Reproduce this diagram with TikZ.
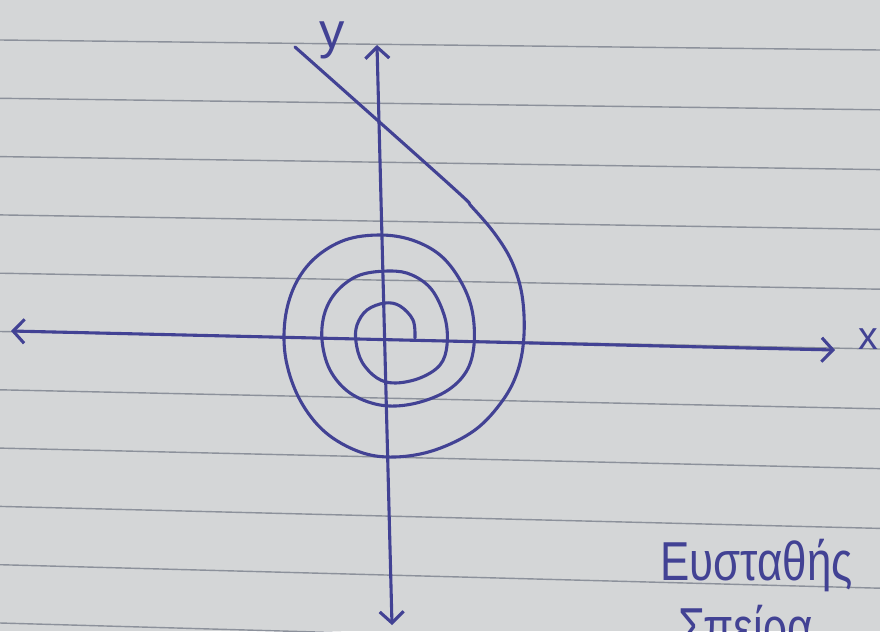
\documentclass[tikz,border=0pt]{standalone}
\usepackage{fontspec}
\setmainfont{Liberation Sans}
\usetikzlibrary{arrows.meta}
\definecolor{paper}{RGB}{212,214,215}
\definecolor{rule}{RGB}{140,145,155}
\definecolor{pen}{RGB}{66,66,148}
\tikzset{
  paperline/.style={draw=rule, line width=1pt},
  penline/.style={draw=pen, line width=2.2pt, line cap=round, line join=round},
  axisarrow/.style={penline, {Straight Barb[length=8pt,width=17pt]}-{Straight Barb[length=8pt,width=17pt]}},
  hand/.style={text=pen, inner sep=0pt}
}
\begin{document}
\begin{tikzpicture}[x=0.025cm, y=-0.025cm]
\useasboundingbox (0,0) rectangle (880,631);
\clip (0,0) rectangle (880,631);
\fill[paper] (0,0) rectangle (880,631);
% ruled paper lines
\foreach \k in {0,...,10}{
  \draw[paperline] (0,{40+58.3*\k}) -- (880,{50+59.8*\k});
}
% axes
\coordinate (xl) at (11,331);
\coordinate (xr) at (835,350);
\coordinate (yt) at (377,45);
\coordinate (yb) at (392,625);
\draw[axisarrow] (xl) -- (xr);
\draw[axisarrow] (yb) -- (yt);
\node[hand, anchor=base, font=\fontsize{28}{30}\selectfont] (xlab) at (868,349) {x};
\node[hand, anchor=base, font=\fontsize{36}{40}\selectfont] (ylab) at (332,48) {y};
% spiral
\draw[penline] plot[smooth, tension=0.6] coordinates {
 (415,338) (413,320) (400,306) (385,303) (367,310) (357,325) (356,342)
 (362,362) (377,378) (395,383) (420,378) (440,365) (447,345) (445,318)
 (432,290) (412,275) (390,271) (360,275) (338,290) (325,312) (322,340)
 (330,370) (350,393) (380,405) (412,404) (445,392) (466,372) (474,345)
 (472,310) (460,280) (440,255) (412,240) (380,235) (345,240) (315,258)
 (295,285) (285,320) (286,360) (300,400) (325,432) (360,452) (395,457)
 (435,450) (475,430) (503,400) (518,370) (524,335) (522,295) (512,262)
 (495,234) (472,207) (450,185) (295,47)};
% caption
\node[hand, anchor=base west, xscale=0.8, font=\fontsize{39}{44}\selectfont] (t1) at (660,580) {Ευσταθής};
\node[hand, anchor=base west, xscale=0.8, font=\fontsize{39}{44}\selectfont] (t2) at (678,646) {Σπείρα};
\end{tikzpicture}
\end{document}
